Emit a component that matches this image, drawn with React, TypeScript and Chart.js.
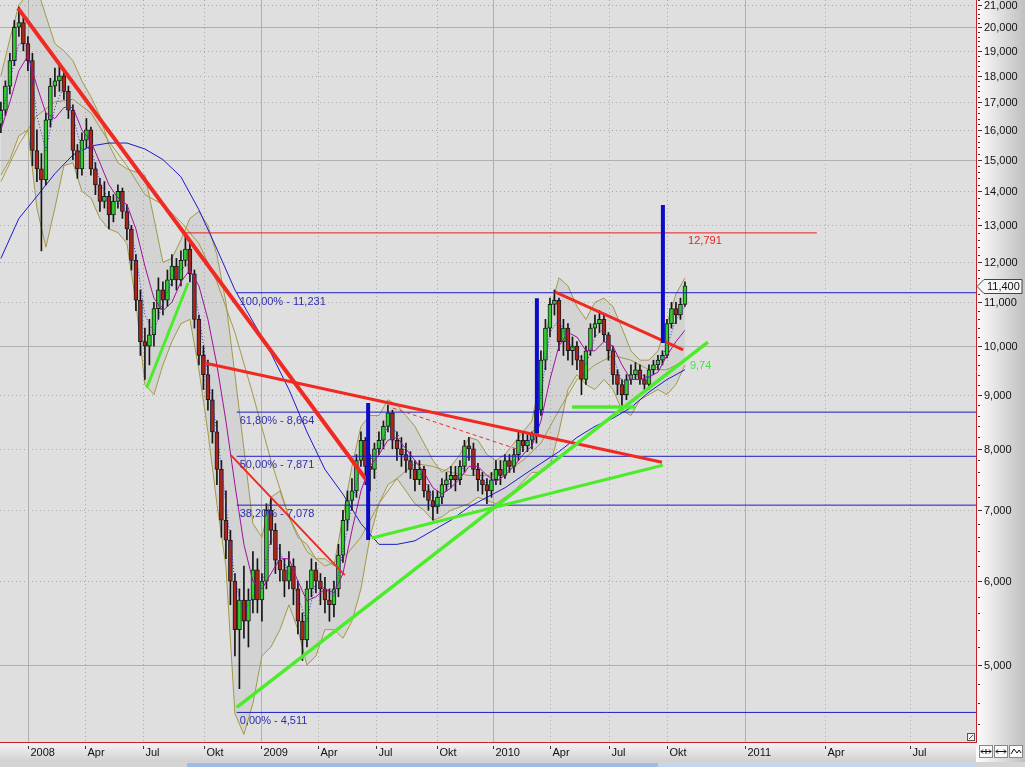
import { useEffect, useRef } from "react";
import { Chart, registerables } from "chart.js";

Chart.register(...registerables);

const W = 1025;
const H = 767;

// ---------- scale bounds (weeks since 1 Jan 2008, price) ----------
const X_MIN = -6.2;
const X_MAX = 210.67;
const Y_MIN = 4.23;
const Y_MAX = 21.22;

// ---------- axis ticks ----------
const xTickWeeks = [0, 12.67, 25.56, 39.1, 51.8, 64.4, 77.3, 90.9, 103.3, 116, 129.1, 142, 159.3, 177.1, 196];
const xTickLabels = ["2008", "Apr", "Jul", "Okt", "2009", "Apr", "Jul", "Okt", "2010", "Apr", "Jul", "Okt", "2011", "Apr", "Jul"];
const yTickValues = [5, 6, 7, 8, 9, 10, 11, 12, 13, 14, 15, 16, 17, 18, 19, 20, 21];
const LAST_PRICE = 11.4;

// ---------- weekly candles [open, high, low, close], first week = -6 ----------
const FIRST_WEEK = -6;
const candles: [number, number, number, number][] = [
  [16.2, 17.0, 15.9, 16.7], [16.7, 17.8, 16.5, 17.6], [17.6, 18.9, 17.3, 18.6], [18.6, 20.3, 18.4, 20.0],
  [20.0, 20.9, 19.6, 20.2], [20.2, 20.5, 19.0, 19.3], [19.3, 19.6, 18.2, 18.6], [18.6, 18.9, 14.8, 15.3],
  [15.3, 16.0, 14.3, 14.7], [14.7, 15.2, 12.3, 14.35], [14.35, 16.6, 14.2, 16.35], [16.35, 17.9, 16.1, 17.6],
  [17.6, 18.3, 17.2, 17.8], [17.8, 18.4, 17.4, 18.0], [18.0, 18.2, 17.1, 17.4], [17.4, 17.6, 16.4, 16.7],
  [16.7, 16.9, 15.0, 15.3], [15.3, 15.5, 14.4, 14.7], [14.7, 15.9, 14.5, 15.65], [15.65, 16.4, 15.4, 16.0],
  [16.0, 16.1, 14.5, 14.7], [14.7, 14.9, 13.9, 14.2], [14.2, 14.4, 13.4, 13.7], [13.7, 14.3, 13.5, 13.85],
  [13.85, 14.0, 12.9, 13.3], [13.3, 13.9, 13.1, 13.7], [13.7, 14.2, 13.5, 14.0], [14.0, 14.1, 13.2, 13.4],
  [13.4, 13.6, 12.6, 12.9], [12.9, 13.0, 11.8, 12.05], [12.05, 12.2, 10.8, 11.05], [11.05, 11.3, 9.8, 10.1],
  [10.1, 10.4, 9.3, 10.0], [10.0, 10.6, 9.6, 10.25], [10.25, 11.0, 10.0, 10.85], [10.85, 11.6, 10.6, 11.3],
  [11.3, 11.5, 10.7, 11.05], [11.05, 11.8, 10.9, 11.55], [11.55, 12.2, 11.4, 11.9], [11.9, 12.1, 11.3, 11.55],
  [11.55, 12.3, 11.4, 12.05], [12.05, 12.75, 11.9, 12.35], [12.35, 12.5, 11.5, 11.7], [11.7, 11.8, 10.4, 10.6],
  [10.6, 10.7, 9.6, 9.8], [9.8, 10.0, 9.1, 9.4], [9.4, 9.7, 8.7, 8.9], [8.9, 9.1, 8.1, 8.3],
  [8.3, 8.5, 7.4, 7.65], [7.65, 7.8, 6.6, 6.85], [6.85, 7.3, 6.3, 6.56], [6.56, 6.7, 5.7, 6.0],
  [6.0, 6.1, 5.1, 5.4], [5.4, 5.9, 4.75, 5.76], [5.76, 6.2, 5.3, 5.5], [5.5, 5.9, 5.2, 5.76],
  [5.76, 6.4, 5.6, 6.15], [6.15, 6.3, 5.6, 5.76], [5.76, 6.1, 5.5, 6.0], [6.0, 7.1, 5.9, 7.0],
  [7.0, 7.2, 6.5, 6.7], [6.7, 6.8, 6.1, 6.28], [6.28, 6.5, 6.0, 6.15], [6.15, 6.3, 5.8, 6.0],
  [6.0, 6.4, 5.9, 6.2], [6.2, 6.3, 5.7, 5.9], [5.9, 6.0, 5.35, 5.5], [5.5, 5.6, 5.05, 5.28],
  [5.28, 6.0, 5.2, 5.9], [5.9, 6.3, 5.8, 6.15], [6.15, 6.25, 5.85, 6.0], [6.0, 6.1, 5.7, 5.9],
  [5.9, 6.05, 5.6, 5.76], [5.76, 5.9, 5.5, 5.7], [5.7, 6.0, 5.55, 5.9], [5.9, 6.5, 5.8, 6.35],
  [6.35, 7.0, 6.25, 6.85], [6.85, 7.3, 6.7, 7.15], [7.15, 7.5, 7.0, 7.3], [7.3, 7.9, 7.2, 7.8],
  [7.8, 8.3, 7.7, 8.15], [8.15, 8.2, 7.4, 7.7], [7.7, 7.9, 7.3, 7.65], [7.65, 8.1, 7.5, 8.0],
  [8.0, 8.3, 7.9, 8.15], [8.15, 8.5, 8.0, 8.4], [8.4, 8.8, 8.3, 8.65], [8.65, 8.7, 8.0, 8.15],
  [8.15, 8.3, 7.8, 8.0], [8.0, 8.2, 7.7, 7.9], [7.9, 8.1, 7.6, 7.8], [7.8, 7.95, 7.5, 7.65],
  [7.65, 7.8, 7.3, 7.48], [7.48, 7.8, 7.4, 7.65], [7.65, 7.7, 7.2, 7.3], [7.3, 7.4, 7.0, 7.15],
  [7.15, 7.3, 6.85, 7.05], [7.05, 7.3, 6.95, 7.2], [7.2, 7.5, 7.1, 7.4], [7.4, 7.6, 7.3, 7.48],
  [7.48, 7.7, 7.35, 7.55], [7.55, 7.7, 7.3, 7.48], [7.48, 7.8, 7.4, 7.7], [7.7, 8.15, 7.6, 8.05],
  [8.05, 8.2, 7.8, 8.0], [8.0, 8.1, 7.55, 7.65], [7.65, 7.75, 7.3, 7.48], [7.48, 7.6, 7.25, 7.4],
  [7.4, 7.5, 7.1, 7.3], [7.3, 7.6, 7.2, 7.48], [7.48, 7.8, 7.4, 7.65], [7.65, 7.8, 7.4, 7.55],
  [7.55, 7.9, 7.5, 7.8], [7.8, 7.9, 7.6, 7.7], [7.7, 8.0, 7.6, 7.9], [7.9, 8.3, 7.8, 8.15],
  [8.15, 8.3, 7.95, 8.05], [8.05, 8.25, 7.95, 8.15], [8.15, 8.3, 8.0, 8.25], [8.25, 8.9, 8.1, 8.7],
  [8.7, 9.9, 8.6, 9.7], [9.7, 10.6, 9.5, 10.4], [10.4, 11.1, 10.2, 10.95], [10.95, 11.3, 10.7, 11.05],
  [11.05, 11.1, 9.9, 10.1], [10.1, 10.6, 9.8, 10.4], [10.4, 10.5, 9.7, 9.9], [9.9, 10.2, 9.6, 10.0],
  [10.0, 10.1, 9.5, 9.7], [9.7, 9.8, 9.0, 9.3], [9.3, 10.0, 9.2, 9.9], [9.9, 10.5, 9.8, 10.4],
  [10.4, 10.7, 10.2, 10.5], [10.5, 10.8, 10.3, 10.6], [10.6, 10.7, 10.1, 10.25], [10.25, 10.3, 9.7, 9.9],
  [9.9, 10.0, 9.2, 9.4], [9.4, 9.5, 9.0, 9.2], [9.2, 9.3, 8.75, 9.0], [9.0, 9.4, 8.9, 9.3],
  [9.3, 9.6, 9.2, 9.4], [9.4, 9.65, 9.3, 9.5], [9.5, 9.6, 9.2, 9.3], [9.3, 9.4, 9.1, 9.2],
  [9.2, 9.6, 9.1, 9.5], [9.5, 9.7, 9.4, 9.6], [9.6, 9.8, 9.5, 9.7], [9.7, 9.9, 9.6, 9.8],
  [9.8, 10.6, 9.75, 10.5], [10.5, 11.0, 10.4, 10.85], [10.85, 11.0, 10.5, 10.7], [10.7, 11.1, 10.6, 10.95],
  [10.95, 11.5, 10.9, 11.4],
];

// ---------- indicators, sampled every 2 weeks from week -6 ----------
const BAND_START = -6;
const BAND_STEP = 2;
const bbUpper = [18.0, 19.5, 21.0, 21.5, 21.8, 20.5, 19.3, 19.0, 18.6, 17.8, 17.2, 16.5, 15.5, 14.9, 14.7, 14.6, 14.5, 13.2, 12.0, 12.1,
  12.6, 13.2, 13.4, 13.0, 12.2, 11.0, 9.4, 8.0, 6.8, 6.6, 7.2, 7.3, 6.9, 6.6, 6.5, 6.3, 6.3, 6.2, 6.9, 7.7,
  8.4, 8.6, 8.6, 8.9, 8.8, 8.6, 8.4, 8.1, 7.8, 7.6, 7.7, 7.9, 8.2, 8.15, 7.9, 7.8, 7.9, 8.1, 8.3, 8.5,
  9.4, 10.8, 11.6, 11.4, 10.9, 10.6, 11.0, 11.1, 10.9, 10.4, 9.9, 9.7, 9.7, 9.9, 10.5, 11.2, 11.6];
const bbLower = [14.5, 15.0, 15.8, 16.0, 13.5, 12.4, 13.5, 14.8, 14.9, 14.0, 13.8, 13.2, 12.9, 12.8, 12.5, 11.0, 9.2, 9.0, 9.6, 10.1,
  10.5, 10.6, 9.5, 8.3, 7.1, 6.2, 4.5, 4.3, 4.6, 5.1, 5.2, 5.4, 5.7, 5.4, 5.0, 5.1, 5.4, 5.4, 5.3, 5.5,
  5.9, 6.6, 7.1, 7.4, 7.5, 7.3, 7.1, 7.0, 6.85, 6.9, 7.0, 7.05, 7.1, 7.2, 7.15, 7.1, 7.2, 7.3, 7.45, 7.6,
  7.6, 7.7, 8.3, 9.1, 9.4, 9.2, 9.1, 9.3, 9.1, 8.7, 8.6, 8.9, 9.0, 9.1, 9.0, 9.2, 9.6];
const maPurple = [16.0, 17.0, 18.2, 18.8, 17.6, 16.6, 16.4, 16.8, 16.8, 16.0, 15.6, 14.9, 14.2, 13.8, 13.6, 12.9, 11.9, 11.1, 10.8, 11.0,
  11.5, 11.8, 11.4, 10.6, 9.6, 8.5, 7.4, 6.5, 6.0, 5.9, 6.1, 6.3, 6.3, 6.0, 5.75, 5.8, 5.9, 5.85, 6.1, 6.7,
  7.3, 7.7, 7.9, 8.15, 8.2, 8.0, 7.8, 7.6, 7.35, 7.25, 7.35, 7.5, 7.7, 7.7, 7.55, 7.45, 7.55, 7.7, 7.9, 8.05,
  8.5, 9.3, 10.0, 10.3, 10.2, 9.9, 9.9, 10.1, 10.0, 9.6, 9.3, 9.3, 9.35, 9.45, 9.8, 10.1, 10.35];
const maDotted = [16.4, 17.8, 19.3, 19.2, 16.5, 15.3, 16.8, 17.6, 16.5, 15.3, 15.4, 14.3, 13.7, 13.7, 13.4, 12.2, 10.7, 10.3, 11.0, 11.5,
  11.8, 12.0, 10.7, 9.4, 8.3, 7.1, 6.0, 5.6, 5.8, 5.95, 6.6, 6.4, 6.1, 5.8, 5.5, 6.0, 5.9, 5.8, 6.4, 7.1,
  7.75, 7.8, 8.0, 8.4, 8.3, 7.9, 7.65, 7.5, 7.2, 7.2, 7.45, 7.55, 7.9, 7.6, 7.4, 7.5, 7.65, 7.8, 8.05, 8.2,
  9.0, 10.3, 10.6, 10.1, 9.85, 9.6, 10.2, 10.4, 9.8, 9.25, 9.3, 9.4, 9.35, 9.6, 10.0, 10.6, 10.9];

// ---------- slow averages, sampled every 4 weeks from week -6 ----------
const SLOW_STEP = 4;
const maOlive = [14.3, 15.5, 16.5, 17.0, 17.1, 16.6, 15.6, 14.8, 13.9, 13.6, 13.1, 12.5, 11.5, 10.3, 9.0, 7.8, 6.9, 6.4, 6.2, 6.3,
  6.6, 7.1, 7.5, 7.75, 7.7, 7.6, 7.55, 7.55, 7.6, 7.8, 8.1, 8.7, 9.3, 9.6, 9.8, 9.7, 9.5, 9.5, 9.7];
const maLongBlue = [12.1, 13.2, 13.85, 14.55, 15.15, 15.45, 15.55, 15.55, 15.35, 15.0, 14.45, 13.45, 12.35, 11.3, 10.55, 9.85, 9.1, 8.3, 7.65, 7.25,
  6.8, 6.5, 6.5, 6.55, 6.7, 6.85, 7.05, 7.2, 7.35, 7.55, 7.75, 7.95, 8.2, 8.4, 8.55, 8.75, 9.05, 9.3, 9.5];

// ---------- drawn annotations: [week, price] ----------
const trendRedMain: [number, number][] = [[-2.2, 20.85], [75.6, 7.44]];
const trendRedUpper: [number, number][] = [[39.3, 9.64], [140.9, 7.77]];
const trendRedThin: [number, number][] = [[45.1, 7.89], [70.4, 6.08]];
const trendRedFlag: [number, number][] = [[117.1, 11.25], [145.6, 9.92]];
const trendRedDashed: [number, number][] = [[81.1, 8.74], [109.3, 7.98]];
const targetLevel = 12.791;
const targetSpan = [34.9, 175.3];
const trendGreenMain: [number, number][] = [[46.4, 4.56], [151.1, 10.09]];
const trendGreenMid: [number, number][] = [[76.4, 6.59], [141.1, 7.72]];
const trendGreenSmall: [number, number][] = [[26.4, 9.13], [35.6, 11.47]];
const trendGreenFlat: [number, number][] = [[120.9, 8.76], [134.9, 8.76]];
const spikeWeeks = [75.6, 113.1, 141.1];
const spikeTops = [8.84, 11.1, 13.59];
const spikeBottoms = [6.56, 8.28, 10.07];
const fibStartWeek = 46.4;
const fibLevels = [11.231, 8.664, 7.871, 7.078, 4.511];
const fibPercents = ["100,00%", "61,80%", "50,00%", "38,20%", "0,00%"];
const greenLabelValue = 9.74;
const greenLabelWeek = 147.1;
const targetLabelWeek = 146.7;

const fmt = (v: number) => v.toFixed(3).replace(".", ",");
const FONT = "11px 'Liberation Sans', Arial, sans-serif";

const sampled = (arr: number[], start: number, step: number) =>
  arr.map((v, i) => ({ x: start + i * step, y: v }));
const pts = (arr: [number, number][]) => arr.map(([x, y]) => ({ x, y }));

const lineDs = (data: { x: number; y: number }[], color: string, width: number, order: number, extra: any = {}) => ({
  type: "line" as const,
  data,
  borderColor: color,
  borderWidth: width,
  pointRadius: 0,
  tension: 0,
  fill: false,
  order,
  ...extra,
});

const decorPlugin = {
  id: "decor",
  beforeDraw(chart: any) {
    const { ctx, chartArea: ca } = chart;
    const xs = chart.scales.x;
    const ys = chart.scales.y;
    ctx.save();
    ctx.fillStyle = "#dfdfdf";
    ctx.fillRect(0, 0, W, H);
    // right axis panel
    let g = ctx.createLinearGradient(ca.right, 0, W, 0);
    g.addColorStop(0, "#fdfdfd");
    g.addColorStop(1, "#c0c0c0");
    ctx.fillStyle = g;
    ctx.fillRect(ca.right, 0, W - ca.right, H);
    // bottom axis panel
    g = ctx.createLinearGradient(0, ca.bottom, 0, 762);
    g.addColorStop(0, "#f6f6f6");
    g.addColorStop(1, "#d0d0d0");
    ctx.fillStyle = g;
    ctx.fillRect(0, ca.bottom, ca.right, 762 - ca.bottom);
    // bottom strip
    ctx.fillStyle = "#d4d4d4";
    ctx.fillRect(0, 762, W, H - 762);
    ctx.fillStyle = "#9dbde8";
    ctx.fillRect(187, 763, 658 - 187, H - 763);
    ctx.fillStyle = "#c2d6f0";
    ctx.fillRect(658, 763, ca.right - 658, H - 763);
    // grid
    ctx.beginPath();
    ctx.rect(ca.left, ca.top, ca.right - ca.left, ca.bottom - ca.top);
    ctx.clip();
    ctx.lineWidth = 1;
    xTickWeeks.forEach((wk, k) => {
      const px = Math.round(xs.getPixelForValue(wk)) + 0.5;
      const isYear = /^\d{4}$/.test(xTickLabels[k]);
      ctx.strokeStyle = isYear ? "#b0b0b0" : "#a9a9a9";
      ctx.setLineDash(isYear ? [] : [1, 3]);
      ctx.beginPath();
      ctx.moveTo(px, ca.top);
      ctx.lineTo(px, ca.bottom);
      ctx.stroke();
    });
    yTickValues.forEach((v) => {
      const py = Math.round(ys.getPixelForValue(v)) + 0.5;
      const major = v % 5 === 0;
      ctx.strokeStyle = major ? "#b0b0b0" : "#a9a9a9";
      ctx.setLineDash(major ? [] : [1, 3]);
      ctx.beginPath();
      ctx.moveTo(ca.left, py);
      ctx.lineTo(ca.right, py);
      ctx.stroke();
    });
    ctx.restore();
  },
  afterDatasetsDraw(chart: any) {
    const { ctx, chartArea: ca } = chart;
    const xs = chart.scales.x;
    const ys = chart.scales.y;
    ctx.save();
    ctx.beginPath();
    ctx.rect(ca.left, ca.top, ca.right - ca.left, ca.bottom - ca.top);
    ctx.clip();
    ctx.font = FONT;
    ctx.textBaseline = "middle";
    ctx.textAlign = "left";
    ctx.fillStyle = "#2e2eb0";
    const fx = xs.getPixelForValue(fibStartWeek) + 3;
    fibLevels.forEach((v, i) => {
      ctx.fillText(`${fibPercents[i]} - ${fmt(v)}`, fx, ys.getPixelForValue(v) + 9);
    });
    ctx.fillStyle = "#e02424";
    ctx.fillText(fmt(targetLevel), xs.getPixelForValue(targetLabelWeek), ys.getPixelForValue(targetLevel) + 8);
    ctx.fillStyle = "#3ee63e";
    ctx.fillText(greenLabelValue.toFixed(2).replace(".", ","), xs.getPixelForValue(greenLabelWeek), ys.getPixelForValue(greenLabelValue) + 8);
    ctx.restore();
  },
  afterDraw(chart: any) {
    const { ctx, chartArea: ca } = chart;
    const xs = chart.scales.x;
    const ys = chart.scales.y;
    ctx.save();
    // axis lines
    ctx.strokeStyle = "#c8202a";
    ctx.lineWidth = 1;
    ctx.beginPath();
    ctx.moveTo(ca.right + 0.5, 0);
    ctx.lineTo(ca.right + 0.5, ca.bottom + 1);
    ctx.moveTo(0, ca.bottom + 0.5);
    ctx.lineTo(ca.right + 1, ca.bottom + 0.5);
    ctx.stroke();
    // y minor ticks
    ctx.strokeStyle = "#333";
    for (let v = 4.4; v < Y_MAX; v += 0.2) {
      const py = Math.round(ys.getPixelForValue(v)) + 0.5;
      ctx.beginPath();
      ctx.moveTo(ca.right + 2, py);
      ctx.lineTo(ca.right + 4, py);
      ctx.stroke();
    }
    ctx.font = FONT;
    ctx.textBaseline = "middle";
    ctx.textAlign = "left";
    ctx.fillStyle = "#111";
    yTickValues.forEach((v) => {
      const py = Math.round(ys.getPixelForValue(v)) + 0.5;
      ctx.beginPath();
      ctx.moveTo(ca.right + 2, py);
      ctx.lineTo(ca.right + 6, py);
      ctx.stroke();
      ctx.fillText(fmt(v), ca.right + 8, py);
    });
    // x ticks
    xTickWeeks.forEach((wk, k) => {
      const px = Math.round(xs.getPixelForValue(wk)) + 0.5;
      ctx.beginPath();
      ctx.moveTo(px, ca.bottom + 4);
      ctx.lineTo(px, ca.bottom + 7);
      ctx.stroke();
      ctx.fillText(xTickLabels[k], px + 2, ca.bottom + 11);
    });
    // last price marker
    const my = Math.round(ys.getPixelForValue(LAST_PRICE)) + 0.5;
    ctx.beginPath();
    ctx.moveTo(ca.right + 1, my);
    ctx.lineTo(ca.right + 8, my - 7);
    ctx.lineTo(W - 3, my - 7);
    ctx.lineTo(W - 3, my + 7);
    ctx.lineTo(ca.right + 8, my + 7);
    ctx.closePath();
    ctx.fillStyle = "#f6f6f6";
    ctx.fill();
    ctx.strokeStyle = "#444";
    ctx.stroke();
    ctx.fillStyle = "#111";
    ctx.fillText(fmt(LAST_PRICE), ca.right + 11, my);
    // corner icon
    ctx.fillStyle = "#f0f0f0";
    ctx.fillRect(ca.right - 9, ca.bottom - 9, 8, 8);
    ctx.strokeStyle = "#555";
    ctx.strokeRect(ca.right - 8.5, ca.bottom - 8.5, 7, 7);
    ctx.beginPath();
    ctx.moveTo(ca.right - 7, ca.bottom - 3);
    ctx.lineTo(ca.right - 3, ca.bottom - 7);
    ctx.stroke();
    // bottom-right buttons
    for (let i = 0; i < 3; i++) {
      const bx = ca.right + 3 + i * 15;
      const by = ca.bottom + 3;
      ctx.fillStyle = "#fafafa";
      ctx.fillRect(bx, by, 14, 13);
      ctx.strokeStyle = "#888";
      ctx.strokeRect(bx + 0.5, by + 0.5, 13, 12);
      ctx.strokeStyle = "#111";
      ctx.beginPath();
      if (i < 2) {
        ctx.moveTo(bx + 2, by + 6.5);
        ctx.lineTo(bx + 12, by + 6.5);
        ctx.moveTo(bx + 4, by + 4.5);
        ctx.lineTo(bx + 2, by + 6.5);
        ctx.lineTo(bx + 4, by + 8.5);
        ctx.moveTo(bx + 10, by + 4.5);
        ctx.lineTo(bx + 12, by + 6.5);
        ctx.lineTo(bx + 10, by + 8.5);
        if (i === 0) {
          ctx.moveTo(bx + 7, by + 4);
          ctx.lineTo(bx + 7, by + 9);
        }
      } else {
        ctx.moveTo(bx + 2, by + 9);
        ctx.lineTo(bx + 5, by + 4);
        ctx.lineTo(bx + 8, by + 8);
        ctx.lineTo(bx + 10, by + 5);
        ctx.lineTo(bx + 12, by + 8);
      }
      ctx.stroke();
    }
    ctx.restore();
  },
};

export default function App() {
  const ref = useRef<HTMLCanvasElement>(null);

  useEffect(() => {
    document.body.style.margin = "0";
    const canvas = ref.current;
    if (!canvas) return;

    const bodies = candles.map(([o, , , c], i) => ({ x: FIRST_WEEK + i, y: [o, c] }));
    const wicks = candles.map(([, h, l], i) => ({ x: FIRST_WEEK + i, y: [l, h] }));
    const bodyColors = candles.map(([o, , , c]) => (c >= o ? "#2fcf2f" : "#b02418"));

    const RED = "#f02a22";
    const GREEN = "#4cec2c";
    const FIB = "#1c1cc0";

    const datasets: any[] = [
      lineDs(sampled(bbUpper, BAND_START, BAND_STEP), "#a39a45", 1, 30),
      lineDs(sampled(bbLower, BAND_START, BAND_STEP), "#a39a45", 1, 29, {
        fill: "-1",
        backgroundColor: "rgba(150,150,150,0.16)",
      }),
      lineDs(sampled(maOlive, BAND_START, SLOW_STEP), "#a39a45", 1, 28),
      lineDs(sampled(maLongBlue, BAND_START, SLOW_STEP), "#1a1ad0", 1, 27),
      {
        type: "bar",
        data: wicks,
        backgroundColor: "#141414",
        borderWidth: 0,
        barThickness: 1,
        grouped: false,
        order: 26,
      },
      {
        type: "bar",
        data: bodies,
        backgroundColor: bodyColors,
        borderColor: "#1a1a1a",
        borderWidth: 1,
        borderSkipped: false,
        barThickness: 4,
        grouped: false,
        order: 25,
      },
      lineDs(sampled(maPurple, BAND_START, BAND_STEP), "#a010a0", 1, 24),
      lineDs(sampled(maDotted, BAND_START, BAND_STEP), "#2a2ad8", 1, 23, { borderDash: [1, 2] }),
      ...fibLevels.map((v) =>
        lineDs([{ x: fibStartWeek, y: v }, { x: X_MAX, y: v }], FIB, 1, 20)
      ),
      lineDs([{ x: targetSpan[0], y: targetLevel }, { x: targetSpan[1], y: targetLevel }], "#e82020", 1, 19),
      lineDs(pts(trendRedDashed), "#e83030", 1, 18, { borderDash: [4, 3] }),
      lineDs(pts(trendRedThin), RED, 2, 10),
      lineDs(pts(trendRedMain), RED, 4, 9),
      lineDs(pts(trendRedUpper), RED, 3, 9),
      lineDs(pts(trendRedFlag), RED, 3, 9),
      lineDs(pts(trendGreenMain), GREEN, 3.5, 8),
      lineDs(pts(trendGreenMid), GREEN, 3, 8),
      lineDs(pts(trendGreenSmall), GREEN, 3, 8),
      lineDs(pts(trendGreenFlat), GREEN, 3.5, 8),
      ...spikeWeeks.map((wk, i) =>
        lineDs([{ x: wk, y: spikeTops[i] }, { x: wk, y: spikeBottoms[i] }], "#0c0cc8", 4, 2)
      ),
    ];

    const chart = new Chart(canvas, {
      type: "bar",
      data: { datasets },
      options: {
        responsive: false,
        animation: false,
        events: [],
        layout: { padding: { left: 0, top: 0, right: W - 976, bottom: H - 742 } },
        plugins: {
          legend: { display: false },
          tooltip: { enabled: false },
          title: { display: false },
        },
        scales: {
          x: { type: "linear", min: X_MIN, max: X_MAX, display: false, offset: false },
          y: { type: "logarithmic", min: Y_MIN, max: Y_MAX, display: false },
        },
      } as any,
      plugins: [decorPlugin],
    });
    return () => chart.destroy();
  }, []);

  return (
    <div style={{ position: "fixed", left: 0, top: 0, width: W, height: H }}>
      <canvas ref={ref} width={W} height={H} style={{ display: "block", width: W, height: H }} />
    </div>
  );
}
